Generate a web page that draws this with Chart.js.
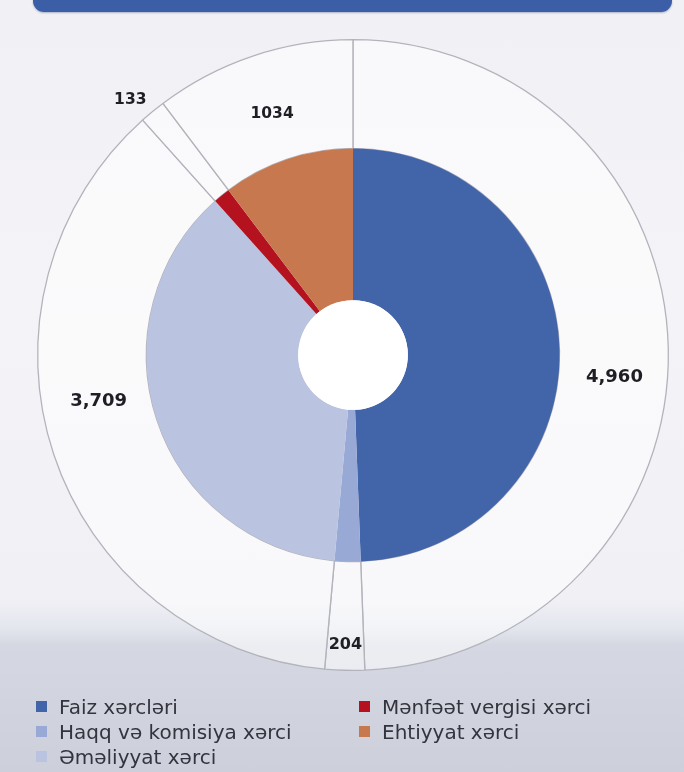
<!DOCTYPE html>
<html>
<head>
<meta charset="utf-8">
<script src="https://cdn.jsdelivr.net/npm/chart.js@4.4.1/dist/chart.umd.min.js"></script>
<style>
  html, body { margin:0; padding:0; }
  body {
    width:684px; height:772px; position:relative; overflow:hidden;
    background: linear-gradient(to bottom, #f1f1f5 0px, #f4f4f8 300px, #f0f0f5 600px, #e4e6ee 628px, #d5d8e2 645px, #cdd0db 772px);
  }
  #bar {
    position:absolute; left:33px; top:-12px; width:639px; height:24px;
    background:#3c5ea6; border-radius:0 0 11px 11px;
    box-shadow: 0 1px 2px rgba(40,60,110,0.35);
  }
  #c { position:absolute; left:0; top:0; }
  #legend {
    position:absolute; left:36px; top:694px;
    display:grid; grid-auto-flow:column;
    grid-template-rows: repeat(3, 25px);
    grid-template-columns: 323px 300px;
    font-family: "DejaVu Sans", sans-serif; font-size:20px; color:#34343e;
  }
  .item { display:flex; align-items:center; white-space:nowrap; }
  .sw { width:11px; height:11px; margin-right:12px; flex:none; }
</style>
</head>
<body>
<div id="bar"></div>
<canvas id="c" width="684" height="772"></canvas>
<div id="legend"></div>
<script>
const categories = ['Faiz xərcləri', 'Haqq və komisiya xərci', 'Əməliyyat xərci', 'Mənfəət vergisi xərci', 'Ehtiyyat xərci'];
const values = [4960, 204, 3709, 133, 1034];
const valueLabels = ['4,960', '204', '3,709', '133', '1034'];
const colors = ['#4264a9', '#98a9d6', '#bac3df', '#b3121e', '#c8784f'];

const labelPlugin = {
  id: 'sliceLabels',
  afterDatasetsDraw(chart, args, opts) {
    const ctx = chart.ctx;
    const outer = chart.getDatasetMeta(0).data;
    const inner = chart.getDatasetMeta(1).data;
    if (!inner.length) return;
    const cx = inner[0].x, cy = inner[0].y;
    // white hole
    ctx.save();
    ctx.beginPath();
    ctx.arc(cx, cy, inner[0].innerRadius, 0, Math.PI * 2);
    ctx.fillStyle = '#ffffff';
    ctx.fill();
    ctx.restore();
    const R = outer[0].outerRadius;
    ctx.save();
    ctx.fillStyle = opts.color;
    ctx.textAlign = 'center';
    ctx.textBaseline = 'middle';
    inner.forEach((arc, i) => {
      const mid = (arc.startAngle + arc.endAngle) / 2 + opts.angleShift[i] * Math.PI / 180;
      const r = R * opts.radius[i];
      ctx.font = 'bold ' + opts.sizes[i] + 'px "DejaVu Sans", sans-serif';
      ctx.fillText(valueLabels[i], cx + r * Math.cos(mid), cy + r * Math.sin(mid));
    });
    ctx.restore();
  }
};

new Chart(document.getElementById('c'), {
  type: 'doughnut',
  data: {
    labels: categories,
    datasets: [
      {
        data: values,
        backgroundColor: 'rgba(255,255,255,0.55)',
        borderColor: '#b3b3bc',
        borderWidth: 1.3,
        weight: 109,
        order: 1
      },
      {
        data: values,
        backgroundColor: colors,
        borderWidth: 0,
        weight: 152,
        order: 0
      }
    ]
  },
  options: {
    responsive: false,
    animation: false,
    devicePixelRatio: 1,
    cutout: '17.4%',
    layout: { padding: { left: 37, right: 15, top: 39, bottom: 101 } },
    plugins: {
      legend: { display: false },
      tooltip: { enabled: false },
      sliceLabels: {
        color: '#1e1e24',
        radius: [0.832, 0.918, 0.82, 1.073, 0.807],
        angleShift: [5.9, 0, 8, -1.7, 0],
        sizes: [18, 16, 18, 15.5, 15.5]
      }
    }
  },
  plugins: [labelPlugin]
});

const legend = document.getElementById('legend');
categories.forEach((name, i) => {
  const it = document.createElement('div');
  it.className = 'item';
  const sw = document.createElement('span');
  sw.className = 'sw';
  sw.style.background = colors[i];
  const tx = document.createElement('span');
  tx.textContent = name;
  it.appendChild(sw);
  it.appendChild(tx);
  legend.appendChild(it);
});
</script>
</body>
</html>
